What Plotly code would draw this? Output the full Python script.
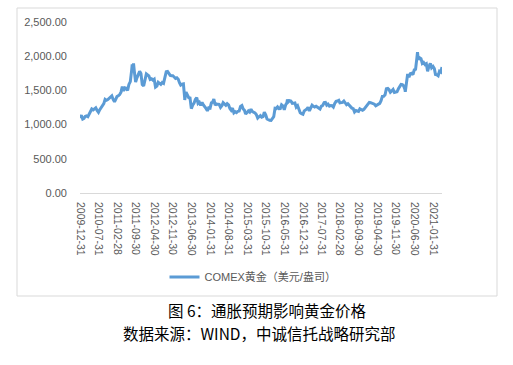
import pandas as pd
import plotly.graph_objects as go

# ---- data (COMEX gold, USD/oz): mid-month & month-end values ----
start_value = 1096  # 2009-12-31
g2010 = [1138, 1081, 1092, 1118, 1126, 1115, 1158, 1180, 1228, 1215, 1227, 1245,
         1208, 1180, 1218, 1248, 1275, 1307, 1370, 1357, 1367, 1386, 1396, 1421]
g2011 = [1368, 1333, 1373, 1410, 1423, 1439, 1474, 1556, 1493, 1536, 1530, 1500,
         1587, 1628, 1790, 1829, 1780, 1620, 1683, 1725, 1778, 1746, 1585, 1566]
g2012 = [1640, 1740, 1725, 1711, 1660, 1669, 1650, 1664, 1548, 1564, 1620, 1604,
         1588, 1614, 1602, 1690, 1772, 1776, 1750, 1719, 1713, 1714, 1696, 1675]
g2013 = [1683, 1663, 1609, 1578, 1591, 1595, 1385, 1476, 1433, 1393, 1389, 1234,
         1283, 1313, 1368, 1396, 1310, 1327, 1280, 1323, 1287, 1250, 1236, 1202]
g2014 = [1245, 1240, 1318, 1326, 1372, 1284, 1303, 1296, 1294, 1250, 1274, 1322,
         1306, 1282, 1305, 1287, 1235, 1210, 1242, 1172, 1188, 1175, 1195, 1199]
g2015 = [1264, 1278, 1228, 1212, 1153, 1183, 1200, 1183, 1225, 1190, 1180, 1172,
         1147, 1095, 1114, 1132, 1107, 1115, 1180, 1142, 1081, 1065, 1062, 1060]
g2016 = [1089, 1116, 1239, 1235, 1258, 1233, 1235, 1290, 1275, 1216, 1286, 1321,
         1330, 1350, 1345, 1310, 1310, 1316, 1255, 1276, 1225, 1173, 1160, 1152]
g2017 = [1200, 1211, 1230, 1254, 1200, 1245, 1285, 1268, 1258, 1268, 1255, 1242,
         1228, 1269, 1280, 1322, 1325, 1284, 1300, 1271, 1280, 1276, 1256, 1309]
g2018 = [1340, 1345, 1355, 1318, 1320, 1325, 1345, 1315, 1290, 1305, 1280, 1253,
         1241, 1233, 1184, 1206, 1200, 1192, 1230, 1215, 1210, 1223, 1245, 1284]
g2019 = [1290, 1325, 1320, 1316, 1305, 1298, 1275, 1285, 1300, 1311, 1350, 1413,
         1415, 1437, 1525, 1529, 1510, 1472, 1490, 1514, 1470, 1470, 1480, 1523]
g2020 = [1555, 1587, 1585, 1566, 1515, 1596, 1740, 1694, 1745, 1751, 1730, 1800,
         1810, 1986, 1950, 1978, 1965, 1895, 1910, 1879, 1890, 1780, 1850, 1895]
g2021 = [1830, 1850, 1820, 1734, 1730, 1715, 1780, 1768]
last_date, last_value = "2021-05-14", 1842
extra_dates = ["2011-08-22", "2011-09-06", "2013-04-15", "2016-07-06", "2020-03-19", "2020-08-06"]
extra_values = [1880, 1895, 1360, 1366, 1480, 2060]

tick_labels = ["2009-12-31", "2010-07-31", "2011-02-28", "2011-09-30", "2012-04-30",
               "2012-11-30", "2013-06-30", "2014-01-31", "2014-08-31", "2015-03-31",
               "2015-10-31", "2016-05-31", "2016-12-31", "2017-07-31", "2018-02-28",
               "2018-09-30", "2019-04-30", "2019-11-30", "2020-06-30", "2021-01-31"]
y_ticks = [0, 500, 1000, 1500, 2000, 2500]
series_name = "COMEX黄金（美元/盎司）"
caption1 = "图 6：通胀预期影响黄金价格"
caption2 = "数据来源：WIND，中诚信托战略研究部"

# ---- assemble series ----
years = {2010: g2010, 2011: g2011, 2012: g2012, 2013: g2013, 2014: g2014, 2015: g2015,
         2016: g2016, 2017: g2017, 2018: g2018, 2019: g2019, 2020: g2020, 2021: g2021}
pts = [(pd.Timestamp("2009-12-31"), start_value)]
for y, vals in years.items():
    for i, v in enumerate(vals):
        m = i // 2 + 1
        d = pd.Timestamp(y, m, 15) if i % 2 == 0 else pd.Timestamp(y, m, 1) + pd.offsets.MonthEnd(0)
        pts.append((d, v))
pts.append((pd.Timestamp(last_date), last_value))
for d, v in zip(extra_dates, extra_values):
    pts.append((pd.Timestamp(d), v))
pts.sort(key=lambda p: p[0])
x = [p[0] for p in pts]
yv = [p[1] for p in pts]

W, H = 513, 365
L, R, T, B = 80, 442, 22, 193  # plot area in pixels


def px(xp):
    return (xp - L) / (R - L)


def py(yp):
    return (B - yp) / (B - T)


GRAY = "#595959"
fig = go.Figure()
fig.add_trace(go.Scatter(x=x, y=yv, mode="lines", name=series_name,
                         line=dict(color="#5B9BD5", width=3)))

fig.update_layout(
    width=W, height=H, autosize=False,
    margin=dict(l=L, r=W - R, t=T, b=H - B, pad=0),
    paper_bgcolor="white", plot_bgcolor="white",
    font=dict(family="Liberation Sans, Arial", color=GRAY, size=11),
    showlegend=True,
    legend=dict(orientation="h", x=px(253), xanchor="center", y=py(277), yanchor="middle",
                font=dict(family="Liberation Sans, Noto Sans CJK SC", size=11, color=GRAY),
                bgcolor="rgba(0,0,0,0)", itemwidth=30),
    xaxis=dict(type="date", range=["2009-12-31", last_date],
               tickmode="array", tickvals=tick_labels, ticktext=tick_labels,
               tickangle=90, tickfont=dict(size=10.5, color=GRAY),
               showgrid=False, zeroline=False, showline=False, ticks="",
               ticklabelstandoff=8),
    yaxis=dict(range=[0, 2500], tickmode="array", tickvals=y_ticks, tickformat=",.2f",
               showgrid=False, zeroline=True, zerolinecolor="#D9D9D9", zerolinewidth=1,
               showline=False, ticks="", tickfont=dict(size=11, color=GRAY),
               ticklabelstandoff=12),
    shapes=[dict(type="rect", xref="paper", yref="paper",
                 x0=px(17), x1=px(497), y0=py(296), y1=py(8),
                 line=dict(color="#D9D9D9", width=1), fillcolor="rgba(0,0,0,0)", layer="below")],
    annotations=[
        dict(text=caption1, xref="paper", yref="paper", x=px(267), y=py(310),
             xanchor="center", yanchor="middle", showarrow=False,
             font=dict(family="Noto Sans CJK SC", size=15.5, color="black")),
        dict(text=caption2, xref="paper", yref="paper", x=px(259), y=py(333),
             xanchor="center", yanchor="middle", showarrow=False,
             font=dict(family="Noto Sans CJK SC", size=15.5, color="black")),
    ],
)

fig.write_html("out.html", config={"displayModeBar": False},
               post_script="document.body.style.margin='0';")
